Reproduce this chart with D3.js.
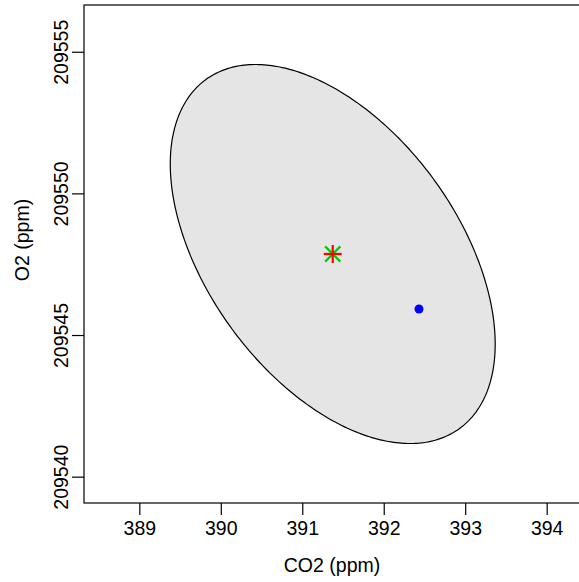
<!DOCTYPE html>
<html><head>
<meta charset="utf-8">
<script src="https://d3js.org/d3.v7.min.js"></script>
<style>
  body { margin: 0; background: white; }
  svg { display: block; font-family: "Liberation Sans", Arial, sans-serif; }
</style>
</head>
<body>
<div id="chart"></div>
<script>
// data
var xTicks = [389, 390, 391, 392, 393, 394];
var yTicks = [209540, 209545, 209550, 209555];
var xLabel = "CO2 (ppm)";
var yLabel = "O2 (ppm)";
// confidence ellipse: centre, half extents along each axis, correlation
var ellipseCentre = [391.374, 209547.86];
var ellipseHalf = [1.994, 6.69];
var ellipseRho = -0.475;
// estimate (star) and observed point (blue dot)
var estimate = [391.374, 209547.86];
var observed = [392.433, 209545.92];

var width = 579, height = 582;
var margin = {left: 84, top: 5, right: -1, bottom: 79};

var svg = d3.select("#chart").append("svg")
  .attr("width", width)
  .attr("height", height);

var xScale = d3.scaleLinear()
  .domain([388.321, 394.409])
  .range([margin.left, width - margin.right]);
var yScale = d3.scaleLinear()
  .domain([209539.07, 209556.65])
  .range([height - margin.bottom, margin.top]);

// ellipse outline
var phi = Math.acos(ellipseRho);
var ell = d3.range(0, 360, 1).map(function(deg) {
  var t = deg * Math.PI / 180;
  return [ellipseCentre[0] + ellipseHalf[0] * Math.cos(t),
          ellipseCentre[1] + ellipseHalf[1] * Math.cos(t + phi)];
});
var line = d3.line()
  .x(function(d) { return xScale(d[0]); })
  .y(function(d) { return yScale(d[1]); })
  .curve(d3.curveLinearClosed);

svg.append("path")
  .datum(ell)
  .attr("d", line)
  .style("fill", "#e5e5e5")
  .style("stroke", "black")
  .style("stroke-width", 1.2);

// star: green x with red +
var sx = xScale(estimate[0]), sy = yScale(estimate[1]);
var g = svg.append("g");
[[-1, -1, 1, 1], [-1, 1, 1, -1]].forEach(function(d) {
  g.append("line")
    .attr("x1", sx + d[0] * 7.6).attr("y1", sy + d[1] * 7.6)
    .attr("x2", sx + d[2] * 7.6).attr("y2", sy + d[3] * 7.6)
    .style("stroke", "#00cd00").style("stroke-width", 2.2);
});
[[-1, 0, 1, 0], [0, -1, 0, 1]].forEach(function(d) {
  g.append("line")
    .attr("x1", sx + d[0] * 9).attr("y1", sy + d[1] * 9)
    .attr("x2", sx + d[2] * 9).attr("y2", sy + d[3] * 9)
    .style("stroke", "#ff0000").style("stroke-width", 2.2);
});

svg.append("circle")
  .attr("cx", xScale(observed[0]))
  .attr("cy", yScale(observed[1]))
  .attr("r", 4.5)
  .style("fill", "#0000ff");

// box
svg.append("rect")
  .attr("x", margin.left)
  .attr("y", margin.top)
  .attr("width", xScale.range()[1] - margin.left)
  .attr("height", yScale.range()[0] - margin.top)
  .style("fill", "none")
  .style("stroke", "black")
  .style("stroke-width", 1.2);

// x axis
var xAxis = svg.append("g")
  .attr("transform", "translate(0," + yScale.range()[0] + ")")
  .call(d3.axisBottom(xScale).tickValues(xTicks).tickSize(12).tickPadding(5).tickFormat(d3.format("d")));
xAxis.select(".domain").remove();
xAxis.selectAll("line").style("stroke-width", 1.2);
xAxis.selectAll("text").style("font-size", "19.5px").style("fill", "black")
  .attr("dy", null).attr("y", 32);

// y axis
var yAxis = svg.append("g")
  .attr("transform", "translate(" + margin.left + ",0)")
  .call(d3.axisLeft(yScale).tickValues(yTicks).tickSize(12).tickFormat(d3.format("d")));
yAxis.select(".domain").remove();
yAxis.selectAll("line").style("stroke-width", 1.2);
yAxis.selectAll("text")
  .style("font-size", "19.5px").style("fill", "black")
  .attr("x", null).attr("dy", null)
  .attr("text-anchor", "middle")
  .attr("transform", "translate(-16,0) rotate(-90)");

// titles
svg.append("text")
  .attr("x", 332).attr("y", 572)
  .attr("text-anchor", "middle")
  .style("font-size", "19.5px")
  .text(xLabel);
svg.append("text")
  .attr("transform", "translate(29,240) rotate(-90)")
  .attr("text-anchor", "middle")
  .style("font-size", "19.5px")
  .text(yLabel);
</script>
</body></html>
